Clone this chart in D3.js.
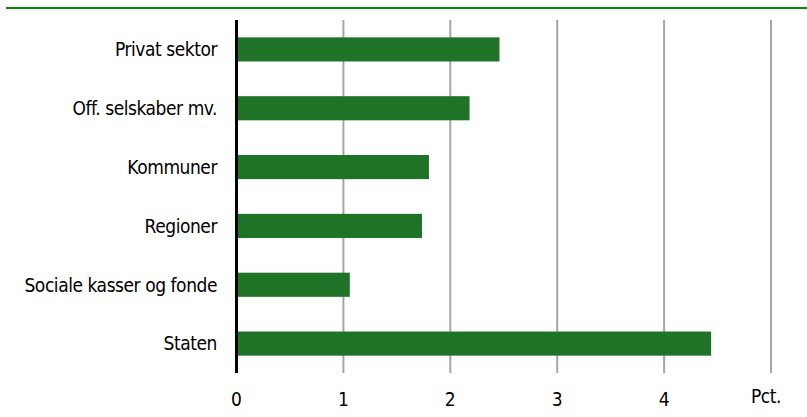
<!DOCTYPE html>
<html><head><meta charset="utf-8">
<script src="https://cdn.jsdelivr.net/npm/d3@7"></script>
<style>body{margin:0;background:#fff}svg{display:block}</style>
</head><body>
<svg id="c" width="807" height="417"></svg>
<script>
const categories = ["Privat sektor","Off. selskaber mv.","Kommuner","Regioner","Sociale kasser og fonde","Staten"];
const values = [2.46, 2.18, 1.80, 1.735, 1.06, 4.44];
const tickValues = [0,1,2,3,4];
const unitLabel = "Pct.";

const svg = d3.select("#c");
const font = "'DejaVu Sans Condensed', 'Liberation Sans Narrow', sans-serif";
const x = d3.scaleLinear().domain([0,5]).range([236.5,771]);
const y = d3.scaleBand().domain(categories).range([20,373]).paddingInner(0.59).paddingOuter(0.295);

// top rule
svg.append("line").attr("x1",6).attr("x2",807).attr("y1",8).attr("y2",8)
  .attr("stroke","#008a00").attr("stroke-width",2);

// grid
svg.append("g").selectAll("line").data([1,2,3,4,5]).join("line")
  .attr("x1",d=>x(d)).attr("x2",d=>x(d)).attr("y1",20).attr("y2",373)
  .attr("stroke","#a6a6a6").attr("stroke-width",2);

// bars
svg.append("g").selectAll("rect").data(values).join("rect")
  .attr("x",x(0)).attr("y",(d,i)=>y(categories[i]))
  .attr("width",d=>x(d)-x(0)).attr("height",y.bandwidth())
  .attr("fill","#1e7327");

// axis line
svg.append("line").attr("x1",x(0)).attr("x2",x(0)).attr("y1",20).attr("y2",373)
  .attr("stroke","#000").attr("stroke-width",3);

// category labels
svg.append("g").selectAll("text").data(categories).join("text")
  .attr("x",217).attr("y",d=>y(d)+y.bandwidth()/2).attr("dy","0.36em")
  .attr("text-anchor","end").attr("font-family",font).attr("font-size",19)
  .attr("letter-spacing",-0.45).attr("fill","#000").text(d=>d);

// x tick labels
svg.append("g").selectAll("text").data(tickValues).join("text")
  .attr("x",d=>x(d)).attr("y",406).attr("text-anchor","middle")
  .attr("font-family",font).attr("font-size",19).attr("fill","#000").text(d=>d);

svg.append("text").attr("x",766).attr("y",403).attr("text-anchor","middle")
  .attr("font-family",font).attr("font-size",19).attr("letter-spacing",-0.4)
  .attr("fill","#000").text(unitLabel);
</script>
</body></html>
